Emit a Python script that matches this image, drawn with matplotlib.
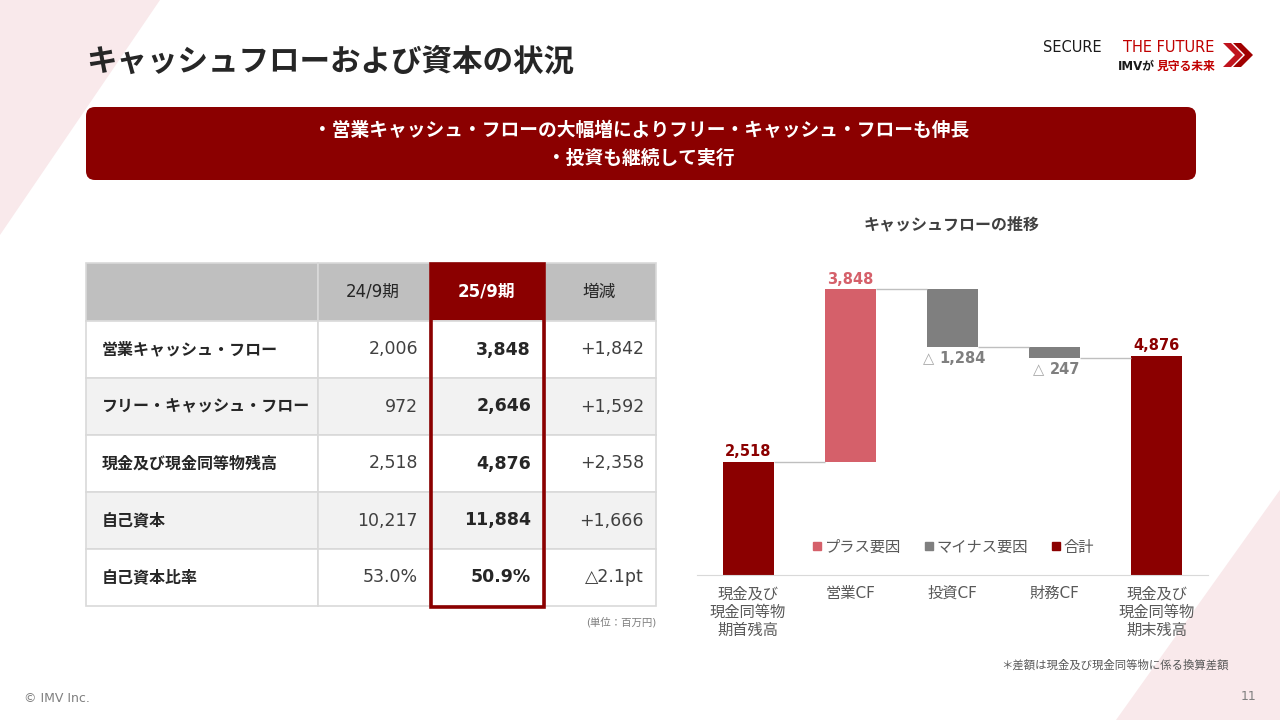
import numpy as np
import matplotlib
matplotlib.use("Agg")
import matplotlib.pyplot as plt
from matplotlib.patches import Polygon, Rectangle, FancyBboxPatch
from matplotlib.lines import Line2D
from matplotlib.colors import LinearSegmentedColormap

plt.rcParams['font.family'] = ['DejaVu Sans', 'Noto Sans CJK JP']

# --- data ---
categories = ['現金及び\n現金同等物\n期首残高', '営業CF', '投資CF', '財務CF', '現金及び\n現金同等物\n期末残高']
start_bal = 2518
flows = [3848, -1284, -247]
end_bal = 4876

row_labels = ['営業キャッシュ・フロー', 'フリー・キャッシュ・フロー', '現金及び現金同等物残高', '自己資本', '自己資本比率']
col_labels = ['24/9期', '25/9期', '増減']
prev_vals = ['2,006', '972', '2,518', '10,217', '53.0%']
curr_vals = ['3,848', '2,646', '4,876', '11,884', '50.9%']
diff_vals = ['+1,842', '+1,592', '+2,358', '+1,666', '△2.1pt']

DARK = '#8b0000'
PINK = '#d5606a'
GRAY = '#7f7f7f'
TXT = '#262626'

fig = plt.figure(figsize=(12.8, 7.2), dpi=100)

# background / slide layer in pixel coords
bg = fig.add_axes([0, 0, 1, 1], zorder=0)
bg.axis('off')

bg.add_patch(Polygon([(0, 0), (160, 0), (0, 235)], closed=True, fc='#f9e9eb', ec='none'))
bg.add_patch(Polygon([(1282, 487), (1116, 720), (1282, 720)], closed=True, fc='#f9e9eb', ec='none'))

# red slash with gradient
slash = Polygon([(26, 87), (37, 87), (75, 29), (64, 29)], closed=True, fc='none', ec='none')
bg.add_patch(slash)
grad = np.linspace(0, 1, 100).reshape(-1, 1)
cmap = LinearSegmentedColormap.from_list('slash', ['#8b0000', '#d01a1a', '#b00000'])
im = bg.imshow(grad, extent=(20, 80, 90, 26), cmap=cmap, aspect='auto')
im.set_clip_path(slash)

bg.text(86, 62, 'キャッシュフローおよび資本の状況', fontsize=22, fontweight='bold',
        color=TXT, ha='left', va='center')

# logo
bg.text(1043, 48, 'SECURE', fontsize=10.5, color='#1a1a1a', ha='left', va='center')
bg.text(1214, 48, 'THE FUTURE', fontsize=10.5, color='#c00000', ha='right', va='center')
bg.text(1215, 66, '見守る未来', fontsize=8.5, fontweight='bold', color='#c00000', ha='right', va='center')
bg.text(1155, 66, 'IMVが', fontsize=8.5, fontweight='bold', color='#1a1a1a', ha='right', va='center')
for dx, c in [(0, '#c0141e'), (10, '#a00000')]:
    bg.add_patch(Polygon([(1223 + dx, 43), (1231 + dx, 43), (1243 + dx, 55),
                          (1231 + dx, 67), (1223 + dx, 67), (1235 + dx, 55)],
                         closed=True, fc=c, ec='none'))

# message box
bg.add_patch(FancyBboxPatch((86, 107), 1110, 73, boxstyle='round,pad=0,rounding_size=9',
                            fc=DARK, ec='none'))
bg.text(641, 131, '・営業キャッシュ・フローの大幅増によりフリー・キャッシュ・フローも伸長',
        fontsize=13.5, fontweight='bold', color='white', ha='center', va='center')
bg.text(641, 158, '・投資も継続して実行', fontsize=13.5, fontweight='bold',
        color='white', ha='center', va='center')

# table
x_edges = [86, 318, 430, 545, 656]
y_edges = [263, 321, 378, 435, 492, 549, 606]
row_fill = ['#ffffff', '#f2f2f2', '#ffffff', '#f2f2f2', '#ffffff']
for j in range(4):
    fc = DARK if j == 2 else '#bfbfbf'
    bg.add_patch(Rectangle((x_edges[j], y_edges[0]), x_edges[j + 1] - x_edges[j],
                           y_edges[1] - y_edges[0], fc=fc, ec='#d9d9d9', lw=1.2))
for i in range(5):
    for j in range(4):
        bg.add_patch(Rectangle((x_edges[j], y_edges[i + 1]), x_edges[j + 1] - x_edges[j],
                               y_edges[i + 2] - y_edges[i + 1], fc=row_fill[i],
                               ec='#d9d9d9', lw=1.2))
bg.add_patch(Rectangle((430.5, 263.5), 113, 343, fill=False, ec=DARK, lw=2.6, zorder=5))

hy = (y_edges[0] + y_edges[1]) / 2
bg.text(373, hy, col_labels[0], fontsize=12, color=TXT, ha='center', va='center')
bg.text(486, hy, col_labels[1], fontsize=12, fontweight='bold', color='white', ha='center', va='center')
bg.text(599, hy, col_labels[2], fontsize=12, color=TXT, ha='center', va='center')
for i in range(5):
    cy = (y_edges[i + 1] + y_edges[i + 2]) / 2
    bg.text(102, cy, row_labels[i], fontsize=11.5, fontweight='bold', color=TXT, ha='left', va='center')
    bg.text(418, cy, prev_vals[i], fontsize=12.5, color='#404040', ha='right', va='center')
    bg.text(531, cy, curr_vals[i], fontsize=12.5, fontweight='bold', color=TXT, ha='right', va='center')
    bg.text(644, cy, diff_vals[i], fontsize=12.5, color='#404040', ha='right', va='center')
bg.text(656, 622, '(単位：百万円)', fontsize=7.5, color='#7f7f7f', ha='right', va='center')

# footer
bg.text(24, 698, '© IMV Inc.', fontsize=9, color='#7f7f7f', ha='left', va='center')
bg.text(1249, 697, '11', fontsize=9, color='#7f7f7f', ha='center', va='center')
bg.text(1229, 665, '＊差額は現金及び現金同等物に係る換算差額', fontsize=8.2,
        color='#595959', ha='right', va='center')
bg.text(952, 225, 'キャッシュフローの推移', fontsize=11.5, fontweight='bold',
        color='#404040', ha='center', va='center')

bg.set_xlim(0, 1280)
bg.set_ylim(720, 0)

# waterfall chart
ax = fig.add_axes([697 / 1280, 145 / 720, 511 / 1280, 314 / 720], zorder=1)
ax.patch.set_alpha(0)

levels = start_bal + np.cumsum(flows)
prev_levels = np.concatenate([[start_bal], levels[:-1]])
w = 0.5

ax.bar(0, start_bal, width=w, color=DARK)
for k, f in enumerate(flows):
    x = k + 1
    bottom = min(prev_levels[k], levels[k])
    ax.bar(x, abs(f), bottom=bottom, width=w, color=PINK if f > 0 else GRAY)
ax.bar(4, end_bal, width=w, color=DARK)

conn = np.concatenate([[start_bal], levels])
for k in range(4):
    ax.hlines(conn[k], k + w / 2, k + 1 - w / 2, color='#bfbfbf', lw=1)

ax.annotate(f'{start_bal:,}', (0, start_bal), xytext=(0, 2), textcoords='offset points',
            ha='center', va='bottom', fontsize=10.5, fontweight='bold', color=DARK)
ax.annotate(f'{end_bal:,}', (4, end_bal), xytext=(0, 2), textcoords='offset points',
            ha='center', va='bottom', fontsize=10.5, fontweight='bold', color=DARK)
for k, f in enumerate(flows):
    x = k + 1
    if f > 0:
        ax.annotate(f'{f:,}', (x, levels[k]), xytext=(0, 2), textcoords='offset points',
                    ha='center', va='bottom', fontsize=10.5, fontweight='bold', color=PINK)
    else:
        t = ax.annotate(f'{abs(f):,}', (x, levels[k]), xytext=(7.5, -3), textcoords='offset points',
                        ha='center', va='top', fontsize=10.5, fontweight='bold', color=GRAY)
        ax.annotate('△', (0, 0.5), xycoords=t, xytext=(-4, 0), textcoords='offset points',
                    ha='right', va='center', fontsize=10.5, color='#a6a6a6')

ax.set_xlim(-0.5, 4.5)
ax.set_ylim(0, 7000)
ax.set_yticks([])
for s in ['top', 'right', 'left']:
    ax.spines[s].set_visible(False)
ax.spines['bottom'].set_color('#d9d9d9')
ax.set_xticks(range(5), categories, fontsize=11, color='#595959', linespacing=1.3)
ax.tick_params(axis='x', length=0, pad=8)

handles = [Line2D([], [], marker='s', ls='', color=PINK, markersize=6, label='プラス要因'),
           Line2D([], [], marker='s', ls='', color=GRAY, markersize=6, label='マイナス要因'),
           Line2D([], [], marker='s', ls='', color=DARK, markersize=6, label='合計')]
ax.legend(handles=handles, ncol=3, loc='center', bbox_to_anchor=(0.5, 0.089), frameon=False,
          handletextpad=0.1, columnspacing=1.4, handlelength=0.8, fontsize=11, labelcolor='#595959')

fig.savefig('out.png', dpi=100)
